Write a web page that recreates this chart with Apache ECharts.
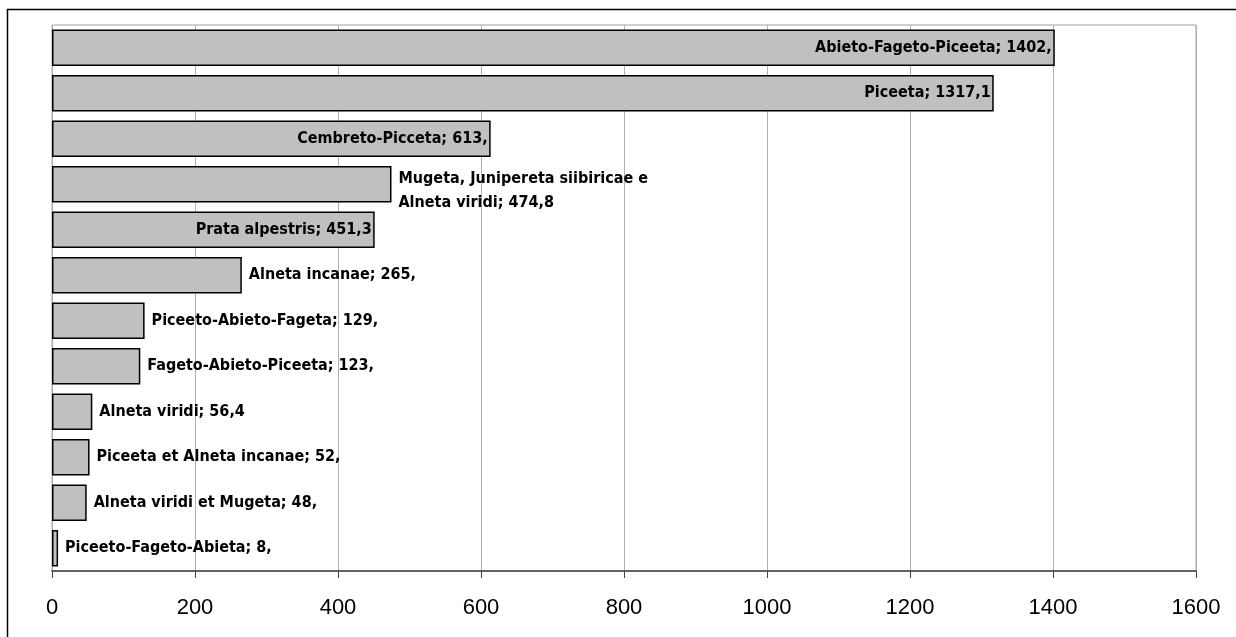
<!DOCTYPE html>
<html><head><meta charset="utf-8">
<script src="https://cdn.jsdelivr.net/npm/echarts@6/dist/echarts.min.js"></script>
<style>html,body{margin:0;padding:0;background:#fff}#c{width:1236px;height:637px}</style>
</head><body><div id="c"></div>
<script>
const categories = ["Abieto-Fageto-Piceeta","Piceeta","Cembreto-Picceta","Mugeta, Junipereta siibiricae et Alneta viridi","Prata alpestris","Alneta incanae","Piceeto-Abieto-Fageta","Fageto-Abieto-Piceeta","Alneta viridi","Piceeta et Alneta incanae","Alneta viridi et Mugeta","Piceeto-Fageto-Abieta"];
const values = [1402.5, 1317.1, 613.5, 474.8, 451.3, 265.5, 129.5, 123.5, 56.4, 52.5, 48.5, 8.5];
const labelTexts = ["Abieto-Fageto-Piceeta; 1402,","Piceeta; 1317,1","Cembreto-Picceta; 613,","Mugeta, Junipereta siibiricae e\nAlneta viridi; 474,8","Prata alpestris; 451,3","Alneta incanae; 265,","Piceeto-Abieto-Fageta; 129,","Fageto-Abieto-Piceeta; 123,","Alneta viridi; 56,4","Piceeta et Alneta incanae; 52,","Alneta viridi et Mugeta; 48,","Piceeto-Fageto-Abieta; 8,"];
const xTicks = [0,200,400,600,800,1000,1200,1400,1600];

const insideIdx = new Set([0,1,2,4]);
const twoLineIdx = 3;
const labelFont = '"DejaVu Sans Condensed","Liberation Sans",sans-serif';
const data = values.map((v,i)=>({
  value: v,
  label: insideIdx.has(i)
    ? {position:'insideRight', distance:3}
    : (i===twoLineIdx ? {position:'right', distance:7, lineHeight:24, offset:[0,7]} : {position:'right', distance:7})
}));

const chart = echarts.init(document.getElementById('c'), null, {renderer:'canvas'});
chart.setOption({
  animation:false,
  graphic:[{type:'rect', shape:{x:7.5,y:9.5,width:1300,height:700}, style:{fill:'none',stroke:'#000',lineWidth:1.5}, silent:true, z:-1}],
  grid:{left:52,right:40,top:25,bottom:66,show:true,borderColor:'#a0a0a0',borderWidth:1},
  xAxis:{type:'value',min:xTicks[0],max:xTicks[xTicks.length-1],interval:200,
    axisLine:{show:true,lineStyle:{color:'#404040',width:1.5}},
    axisTick:{show:true,length:7,lineStyle:{color:'#404040'}},
    splitLine:{show:true,lineStyle:{color:'#b0b0b0',width:1}},
    axisLabel:{color:'#000',fontSize:22,fontFamily:'"Liberation Sans",Arial,sans-serif',margin:26,formatter:v=>String(v)}},
  yAxis:{type:'category',data:categories,inverse:true,
    axisLine:{show:false},axisTick:{show:false},axisLabel:{show:false},splitLine:{show:false}},
  series:[{type:'bar',data:data,barCategoryGap:'20%',
    itemStyle:{color:'#c0c0c0',borderColor:'#000',borderWidth:1.5},
    label:{show:true,color:'#000',fontWeight:'bold',fontSize:16,fontFamily:labelFont,lineHeight:21,
      formatter:p=>labelTexts[p.dataIndex]}}]
});
</script></body></html>
